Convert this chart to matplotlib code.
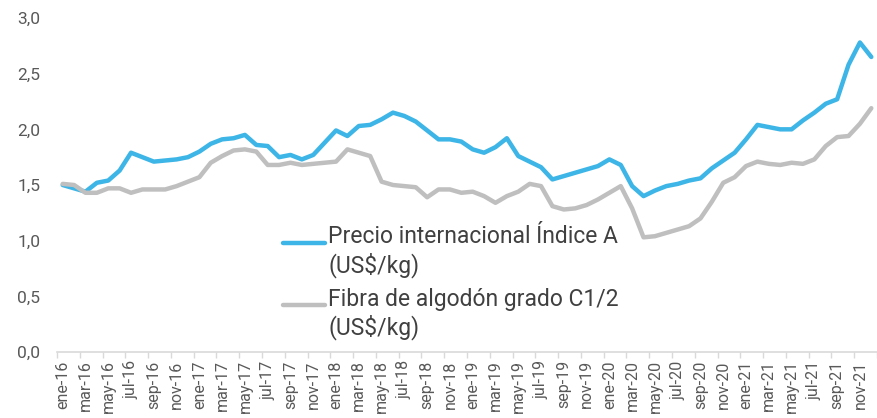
import matplotlib
matplotlib.use('Agg')
import matplotlib.pyplot as plt
import numpy as np
from matplotlib.legend_handler import HandlerLine2D

plt.rcParams['font.family'] = ['Roboto', 'DejaVu Sans']

# --- data ---
meses = ['ene', 'feb', 'mar', 'abr', 'may', 'jun', 'jul', 'ago', 'sep', 'oct', 'nov', 'dic']
anios = ['16', '17', '18', '19', '20', '21']
periodos = [f'{m}-{a}' for a in anios for m in meses]

indice_a = [
    1.50, 1.47, 1.44, 1.52, 1.54, 1.63, 1.79, 1.75, 1.71, 1.72, 1.73, 1.75,   # 2016
    1.80, 1.87, 1.91, 1.92, 1.95, 1.86, 1.85, 1.75, 1.77, 1.73, 1.77, 1.88,   # 2017
    1.99, 1.94, 2.03, 2.04, 2.09, 2.15, 2.12, 2.07, 1.99, 1.91, 1.91, 1.89,   # 2018
    1.82, 1.79, 1.84, 1.92, 1.76, 1.71, 1.66, 1.55, 1.58, 1.61, 1.64, 1.67,   # 2019
    1.73, 1.68, 1.49, 1.40, 1.45, 1.49, 1.51, 1.54, 1.56, 1.65, 1.72, 1.79,   # 2020
    1.91, 2.04, 2.02, 2.00, 2.00, 2.08, 2.15, 2.23, 2.27, 2.58, 2.78, 2.65,   # 2021
]

fibra_c12 = [
    1.51, 1.50, 1.43, 1.43, 1.47, 1.47, 1.43, 1.46, 1.46, 1.46, 1.49, 1.53,   # 2016
    1.57, 1.70, 1.76, 1.81, 1.82, 1.80, 1.68, 1.68, 1.70, 1.68, 1.69, 1.70,   # 2017
    1.71, 1.82, 1.79, 1.76, 1.53, 1.50, 1.49, 1.48, 1.39, 1.46, 1.46, 1.43,   # 2018
    1.44, 1.40, 1.34, 1.40, 1.44, 1.51, 1.49, 1.31, 1.28, 1.29, 1.32, 1.37,   # 2019
    1.43, 1.49, 1.29, 1.03, 1.04, 1.07, 1.10, 1.13, 1.20, 1.35, 1.52, 1.57,   # 2020
    1.67, 1.71, 1.69, 1.68, 1.70, 1.69, 1.73, 1.85, 1.93, 1.94, 2.05, 2.19,   # 2021
]

label_a = 'Precio internacional Índice A\n(US$/kg)'
label_c = 'Fibra de algodón grado C1/2\n(US$/kg)'

azul = '#3DB5E6'
gris = '#BFBFBF'
texto = '#404040'
eje = '#D9D9D9'


class FirstLineHandler(HandlerLine2D):
    """Put the legend line next to the first text line instead of the middle."""
    def create_artists(self, legend, orig_handle, xdescent, ydescent,
                       width, height, fontsize, trans):
        artists = super().create_artists(legend, orig_handle, xdescent, ydescent,
                                         width, height, fontsize, trans)
        for a in artists:
            a.set_ydata(np.asarray(a.get_ydata(), dtype=float) + 0.42 * fontsize)
        return artists


fig = plt.figure(figsize=(8.77, 4.18), dpi=100, facecolor='white')
ax = fig.add_axes([57 / 877, 1 - 352 / 418, 820 / 877, 334 / 418])

x = np.arange(len(periodos))
ax.plot(x, indice_a, color=azul, lw=3.2, solid_joinstyle='round',
        solid_capstyle='round', label=label_a)
ax.plot(x, fibra_c12, color=gris, lw=3.2, solid_joinstyle='round',
        solid_capstyle='round', label=label_c)

ax.set_xlim(-0.5, len(periodos) - 0.5)
ax.set_ylim(0, 3.0)

# y axis
yt = np.arange(0, 3.01, 0.5)
ax.set_yticks(yt)
ax.set_yticklabels([f'{v:.1f}'.replace('.', ',') for v in yt])
ax.tick_params(axis='y', length=0, pad=12, labelsize=12.5, labelcolor='#595959')

# x axis: labels every two months, tick marks between categories
ax.set_xticks(x[::2])
ax.set_xticklabels(periodos[::2], rotation=90)
ax.set_xticks(np.arange(-0.5, len(periodos), 2), minor=True)
ax.tick_params(axis='x', which='major', length=0, pad=6, labelsize=11.5, labelcolor='#595959')
ax.tick_params(axis='x', which='minor', length=4, width=1, color=eje)

for s in ['left', 'top', 'right']:
    ax.spines[s].set_visible(False)
ax.spines['bottom'].set_color(eje)
ax.spines['bottom'].set_linewidth(1.2)

leg = ax.legend(loc='upper left', bbox_to_anchor=(283 / 877, 1 - 225 / 418),
                bbox_transform=fig.transFigure, frameon=False, fontsize=16.5,
                labelcolor=texto, handlelength=1.83, handletextpad=0.15,
                borderpad=0, borderaxespad=0, labelspacing=0.45,
                handler_map={plt.Line2D: FirstLineHandler()})

fig.savefig('out.png', dpi=100, facecolor='white')
